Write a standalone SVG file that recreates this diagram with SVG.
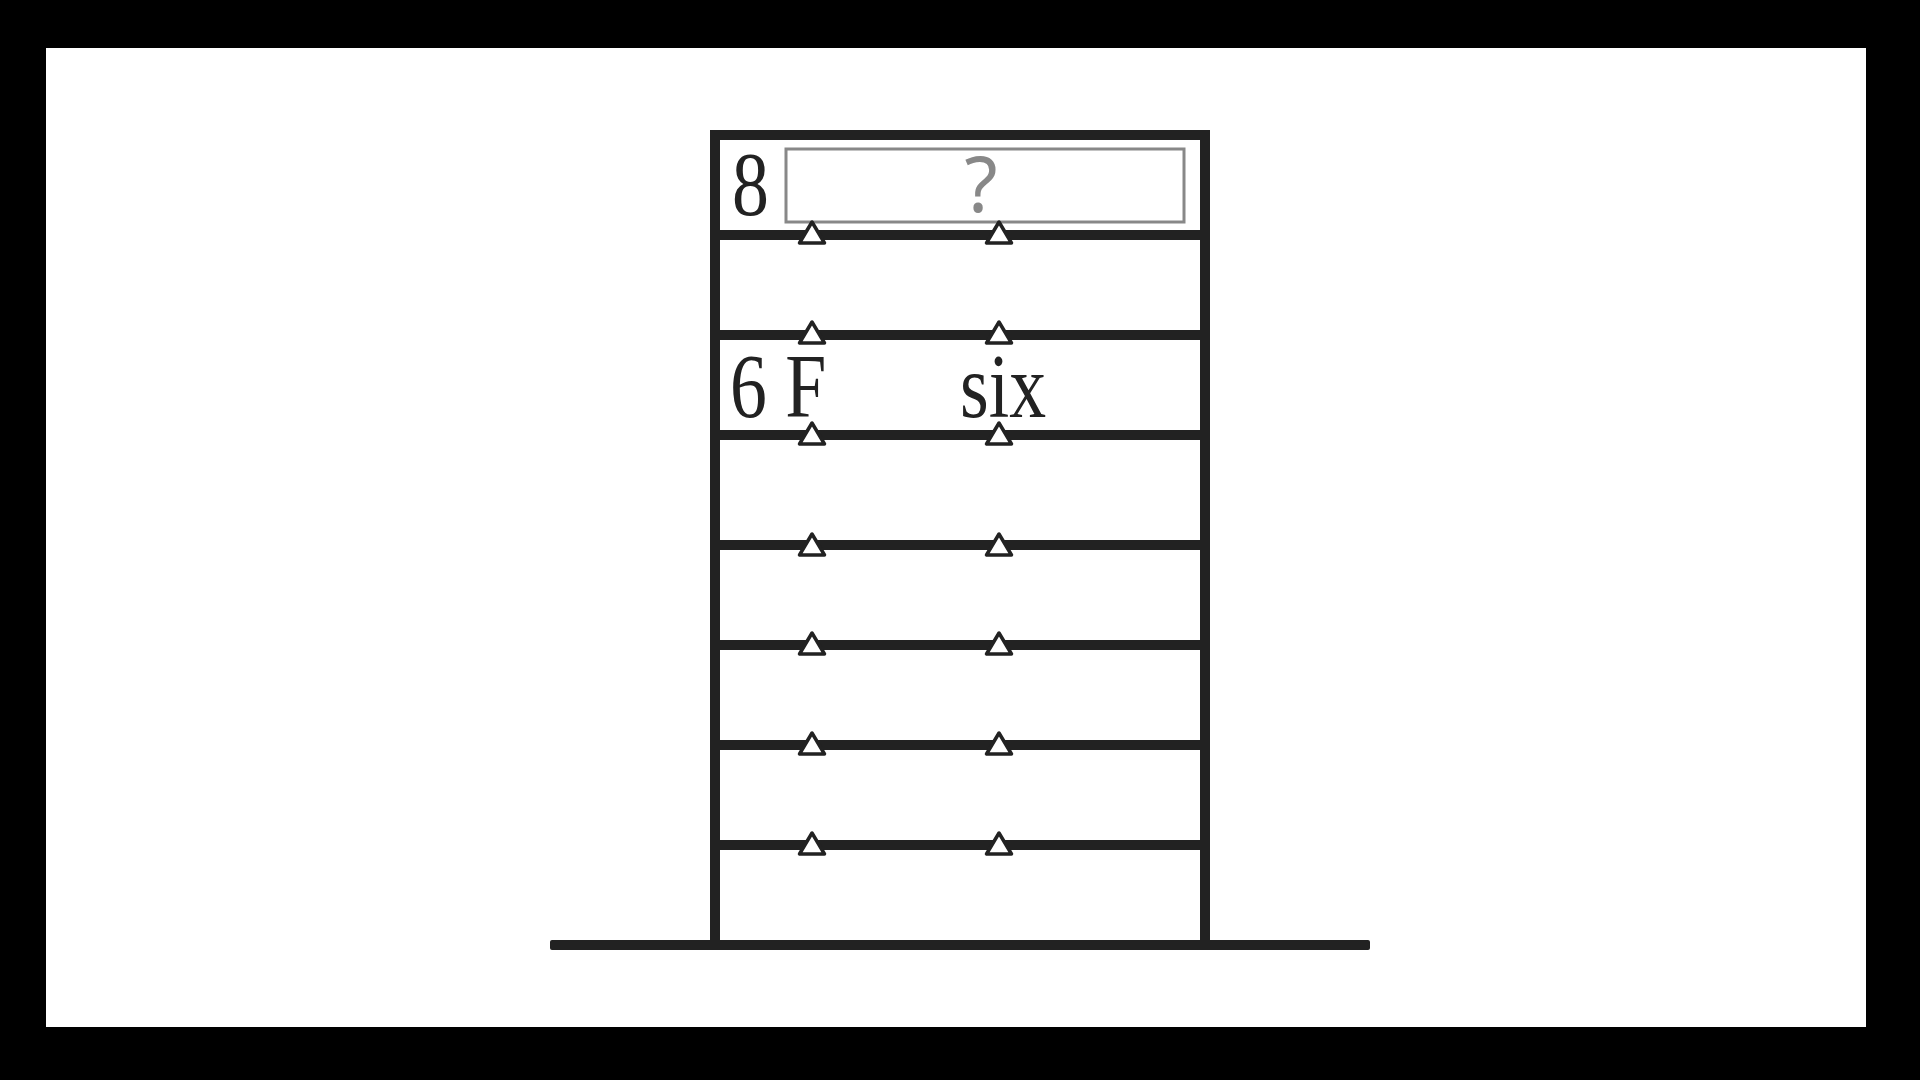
<svg xmlns="http://www.w3.org/2000/svg" width="1920" height="1080" viewBox="0 0 1920 1080">
<style>
.wall{fill:none;stroke:#222;stroke-width:10}
.floor{stroke:#222;stroke-width:10}
.tri{fill:#fff;stroke:#222;stroke-width:3.5;stroke-linejoin:round}
.serif{font-family:"Liberation Serif","Times New Roman",serif;font-size:90px;fill:#222}
.q{font-family:"Noto Sans","Open Sans",sans-serif;font-weight:400;font-size:76px;fill:#888}
</style>
<defs>
<polygon id="t" class="tri" points="0,-11 -12.5,10 12.5,10"/>
</defs>
<rect x="0" y="0" width="1920" height="1080" fill="#000"/>
<rect x="46" y="48" width="1820" height="979" fill="#fff"/>
<g id="building">
<rect x="715" y="135" width="490" height="812" fill="#fff" stroke="none"/>
<path class="wall" d="M715,945 V135 H1205 V945"/>
<rect x="550" y="940" width="820" height="10" rx="2" fill="#222"/>
</g>
<g id="connectors">
<line class="floor" x1="720" y1="235" x2="1200" y2="235"/>
<line class="floor" x1="720" y1="335" x2="1200" y2="335"/>
<line class="floor" x1="720" y1="435" x2="1200" y2="435"/>
<line class="floor" x1="720" y1="545" x2="1200" y2="545"/>
<line class="floor" x1="720" y1="645" x2="1200" y2="645"/>
<line class="floor" x1="720" y1="745" x2="1200" y2="745"/>
<line class="floor" x1="720" y1="845" x2="1200" y2="845"/>
</g>
<g id="floor8">
<rect x="786" y="149" width="398" height="73" fill="#fff" stroke="#888" stroke-width="3"/>
<text class="serif" transform="translate(732,215) scale(0.82,1)">8</text>
<text class="q" x="981" y="212" text-anchor="middle">?</text>
</g>
<g id="floor6">
<text class="serif" transform="translate(730,417) scale(0.82,1)">6 F</text>
<text class="serif" transform="translate(960,417) scale(0.82,1)">six</text>
</g>
<g id="markers">
<use href="#t" x="812" y="233"/><use href="#t" x="999" y="233"/>
<use href="#t" x="812" y="333"/><use href="#t" x="999" y="333"/>
<use href="#t" x="812" y="434"/><use href="#t" x="999" y="434"/>
<use href="#t" x="812" y="545"/><use href="#t" x="999" y="545"/>
<use href="#t" x="812" y="644"/><use href="#t" x="999" y="644"/>
<use href="#t" x="812" y="744"/><use href="#t" x="999" y="744"/>
<use href="#t" x="812" y="844"/><use href="#t" x="999" y="844"/>
</g>
</svg>
